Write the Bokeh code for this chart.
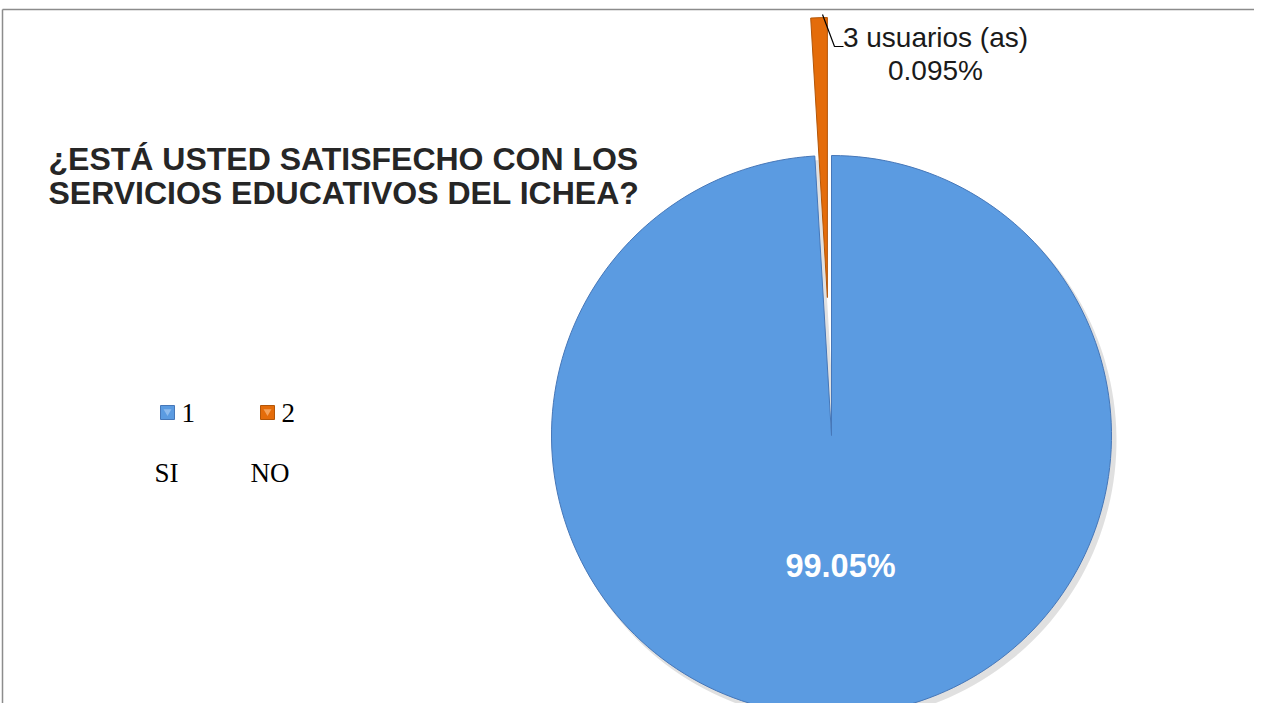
import numpy as np
from bokeh.plotting import figure
from bokeh.models import Range1d
from bokeh.core.properties import value
from bokeh.embed import file_html
from bokeh.resources import INLINE

# ---- data ----
categories = ["SI", "NO"]
legend_ids = ["1", "2"]
percentages = [99.05, 0.95]
slice_labels = ["99.05%", "3 usuarios (as)\n0.095%"]
colors = ["#5B9BE1", "#E46C0A"]
edge_colors = ["#4677B8", "#B35608"]
title_lines = ["¿ESTÁ USTED SATISFECHO CON LOS", "SERVICIOS EDUCATIVOS DEL ICHEA?"]

W, H = 1254, 703
PH = 711  # page height used for coordinate conversion
def Y(py):
    return PH - py

p = figure(width=W, height=H, output_backend="svg", toolbar_location=None,
           x_range=Range1d(0, W), y_range=Range1d(PH - H, PH),
           min_border=0, outline_line_color=None)
p.axis.visible = False
p.grid.visible = False
p.background_fill_color = "white"

# frame border (top and left)
p.segment(x0=[2, 2], y0=[Y(9), Y(9)], x1=[W, 2], y1=[Y(9), Y(H)],
          line_color="#8C8C8C", line_width=1.5)

# ---- pie ----
cx, cy, r = 831, Y(435), 280
frac = np.array(percentages) / sum(percentages)
ang = frac * 2 * np.pi
# orange slice sits just left of 12 o'clock, blue fills the rest (anticlockwise)
o_start = np.pi / 2
o_end = o_start + ang[1]
b_start = o_end
b_end = np.pi / 2 + 2 * np.pi

# soft shadow
p.wedge(x=cx + 4, y=cy - 5, radius=r + 1, start_angle=b_start, end_angle=b_end,
        fill_color="#000000", fill_alpha=0.12, line_color=None)
p.wedge(x=cx, y=cy, radius=r, start_angle=b_start, end_angle=b_end,
        fill_color=colors[0], line_color=edge_colors[0], line_width=1)

explode = 138
mid = (o_start + o_end) / 2
ox, oy = cx + explode * np.cos(mid), cy + explode * np.sin(mid)
p.wedge(x=ox, y=oy, radius=r, start_angle=o_start, end_angle=o_end,
        fill_color=colors[1], line_color=edge_colors[1], line_width=1)

# ---- labels ----
p.text(x=[840], y=[Y(565)], text=[slice_labels[0]], text_color="white",
       text_font=value("Liberation Sans"), text_font_style="bold",
       text_font_size="32.5px", text_align="center", text_baseline="middle")

lab_lines = slice_labels[1].split("\n")
p.text(x=[935, 935], y=[Y(37), Y(70)], text=lab_lines, text_color="#1a1a1a",
       text_font=value("Liberation Sans"), text_font_size="28px",
       text_align="center", text_baseline="middle")
# leader line
p.line(x=[822, 834, 843], y=[Y(14), Y(46), Y(46)], line_color="black", line_width=1.2)

# ---- title ----
p.text(x=[48, 48], y=[Y(158), Y(192)], text=title_lines, text_color="#262626",
       text_font=value("Liberation Sans"), text_font_style="bold",
       text_font_size="32px", text_align="left", text_baseline="middle")

# ---- legend ----
lx = [167, 267]
p.scatter(x=lx, y=[Y(412)] * 2, marker="square", size=14,
          fill_color=colors, line_color=edge_colors, line_width=1)
p.scatter(x=lx, y=[Y(411)] * 2, marker="inverted_triangle", size=8,
          fill_color=["#8DBBEE", "#F5A25A"], line_color=None)
p.text(x=[181, 281], y=[Y(412), Y(412)], text=legend_ids, text_color="black",
       text_font=value("Liberation Serif"), text_font_size="27px",
       text_align="left", text_baseline="middle")
p.text(x=[154, 250], y=[Y(472), Y(472)], text=categories, text_color="black",
       text_font=value("Liberation Serif"), text_font_size="27px",
       text_align="left", text_baseline="middle")

open("out.html", "w").write(file_html(p, INLINE))
